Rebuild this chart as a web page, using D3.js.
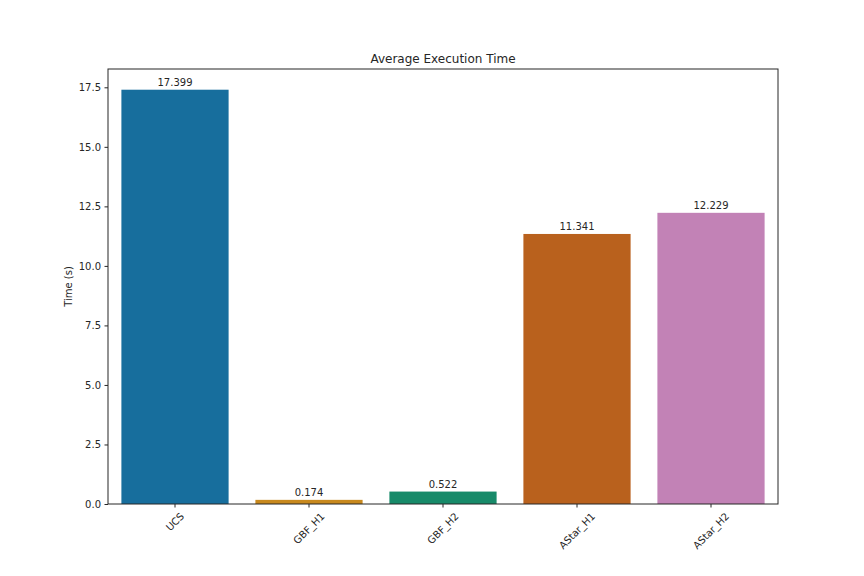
<!DOCTYPE html>
<html lang="en">
<head>
<meta charset="UTF-8">
<title>Average Execution Time</title>
<style>
  body { margin: 0; background: #fff; }
  text { font-family: "DejaVu Sans", sans-serif; fill: #262626; }
</style>
</head>
<body>
<script src="https://d3js.org/d3.v7.min.js"></script>
<script>
// values
const algorithms = ["UCS", "GBF_H1", "GBF_H2", "AStar_H1", "AStar_H2"];
const times = [17.399, 0.174, 0.522, 11.341, 12.229];
const barColors = ["#176e9d", "#c8891e", "#178a69", "#b9611d", "#c282b6"];
const yTicks = [0, 2.5, 5, 7.5, 10, 12.5, 15, 17.5];

const W = 864, H = 576;
const m = { left: 108, right: 86, top: 69, bottom: 72 };

const svg = d3.select("body").append("svg")
    .attr("width", W)
    .attr("height", H);

const x = d3.scaleBand().domain(algorithms).range([m.left, W - m.right]).paddingInner(0.2).paddingOuter(0.1);
const y = d3.scaleLinear().domain([0, d3.max(times) * 1.05]).range([H - m.bottom, m.top]);

const data = algorithms.map((a, i) => ({ name: a, t: times[i], c: barColors[i] }));

svg.selectAll("rect.bar").data(data).enter().append("rect")
    .attr("class", "bar")
    .attr("x", d => x(d.name))
    .attr("width", x.bandwidth())
    .attr("y", d => y(d.t))
    .attr("height", d => y(0) - y(d.t))
    .attr("fill", d => d.c);

// value labels
svg.selectAll("text.val").data(data).enter().append("text")
    .attr("class", "val")
    .attr("x", d => x(d.name) + x.bandwidth() / 2)
    .attr("y", d => y(d.t) - 4)
    .attr("text-anchor", "middle")
    .style("font-size", "10px")
    .text(d => d.t.toFixed(3));

// y axis
const yAxis = svg.append("g")
    .attr("transform", `translate(${m.left},0)`)
    .call(d3.axisLeft(y).tickValues(yTicks).tickFormat(d3.format(".1f")).tickSize(3.5).tickPadding(3.5));
yAxis.select(".domain").remove();
yAxis.selectAll("text").style("font-size", "10px").attr("fill", "#262626");
yAxis.selectAll("line").attr("stroke", "#262626");

// x axis, labels rotated 45deg with their bounding box centred under the tick
const xAxis = svg.append("g")
    .attr("transform", `translate(0,${H - m.bottom})`)
    .call(d3.axisBottom(x).tickSize(3.5).tickPadding(3.5));
xAxis.select(".domain").remove();
xAxis.selectAll("line").attr("stroke", "#262626");
xAxis.selectAll("text")
    .style("font-size", "10px")
    .attr("fill", "#262626")
    .attr("text-anchor", "middle")
    .attr("y", 0)
    .attr("dy", "0.35em")
    .attr("transform", function () {
        const w = this.getComputedTextLength();
        const half = (w + 10) * Math.SQRT1_2 / 2;
        return `translate(0,${7 + half}) rotate(-45)`;
    });

// frame
svg.append("rect")
    .attr("x", m.left).attr("y", m.top)
    .attr("width", W - m.left - m.right)
    .attr("height", H - m.top - m.bottom)
    .attr("fill", "none")
    .attr("stroke", "#262626")
    .attr("stroke-width", 1);

svg.append("text")
    .attr("x", (m.left + W - m.right) / 2)
    .attr("y", m.top - 6)
    .attr("text-anchor", "middle")
    .style("font-size", "12px")
    .text("Average Execution Time");

svg.append("text")
    .attr("transform", `translate(72,${(m.top + H - m.bottom) / 2}) rotate(-90)`)
    .attr("text-anchor", "middle")
    .style("font-size", "10px")
    .text("Time (s)");
</script>
</body>
</html>
